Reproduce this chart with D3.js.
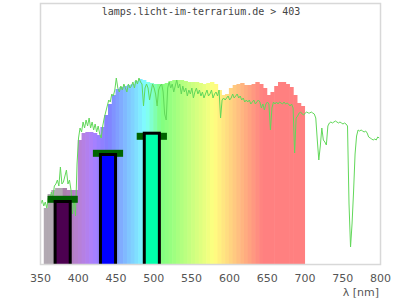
<!DOCTYPE html>
<html>
<head>
<meta charset="utf-8">
<script src="https://cdn.jsdelivr.net/npm/d3@7"></script>
<style>
body { margin: 0; background: #fff; }
</style>
</head>
<body>
<svg id="chart" width="400" height="300"></svg>
<script>
// texts
var titleText = "lamps.licht-im-terrarium.de > 403";
var axisLabel = "λ [nm]";
var tickValues = [350, 400, 450, 500, 550, 600, 650, 700, 750, 800];

// smoothed spectrum, one bin every binWidth nm starting at binStart
var binStart = 355;
var binWidth = 5;
var binValues = [56, 70, 74, 76, 76, 76, 74, 74, 74,
	124, 131, 132, 132, 131, 129, 137, 149, 160, 169,
	175, 177, 178, 179, 180, 183, 185, 184, 182, 181,
	180, 180, 180, 181, 183, 184, 184, 184, 183, 182,
	182, 182, 181, 180, 181, 182, 180, 174, 169, 170,
	176, 179, 180, 181, 179, 179, 180, 182, 180, 176,
	169, 172, 178, 182, 182, 180, 177, 169, 161, 158];

// measured spectrum, one value every lineStep nm starting at lineStart
var lineStart = 351;
var lineStep = 2;
var lineValues = [
	60, 64, 58, 62, 56, 66, 62, 72, 66, 78,
	80, 84, 78, 97, 80, 82, 88, 94, 80, 84,
	74, 50, 66, 48, 100, 126, 136, 132, 142, 136,
	144, 138, 146, 136, 142, 134, 140, 132, 138, 130,
	126, 138, 146, 152, 158, 164, 162, 170, 168, 174,
	186, 176, 172, 178, 174, 180, 176, 172, 180, 176,
	178, 182, 176, 184, 180, 186, 182, 180, 158, 176,
	180, 176, 164, 172, 180, 176, 170, 158, 174, 178,
	180, 172, 150, 144, 176, 182, 176, 180, 172, 178,
	184, 176, 180, 170, 178, 172, 176, 168, 174, 170,
	176, 166, 172, 176, 170, 174, 168, 172, 166, 170,
	174, 168, 170, 174, 166, 170, 172, 168, 174, 146,
	164, 166, 164, 166, 168, 164, 166, 170, 166, 168,
	170, 166, 168, 164, 166, 162, 164, 162, 164, 160,
	162, 164, 160, 162, 164, 162, 156, 160, 154, 160,
	162, 160, 134, 156, 162, 160, 162, 160, 162, 161,
	160, 162, 160, 161, 160, 158, 160, 156, 111, 146,
	148, 151, 152, 150, 149, 151, 152, 151, 151, 152,
	151, 150, 146, 124, 104, 118, 136, 124, 122, 119,
	138, 141, 142, 141, 142, 143, 142, 141, 142, 141,
	140, 141, 140, 138, 60, 17, 40, 72, 110, 128,
	134, 133, 134, 133, 132, 133, 131, 127, 126, 125,
	124, 125, 124, 127, 126];

// bands: center wavelength, measured value (bar) and reference value (cap)
var bandCenter = [380, 440, 498];
var bandWidth = 20;
var capWidth = 40;
var bandValue = [62.5, 109.5, 130.8];
var capValue = [64.7, 110.7, 127.7];
var bandColor = ["#4c0050", "#0000ff", "#00ffaa"];

var svg = d3.select("#chart");

var x = d3.scaleLinear().domain([350, 800]).range([40, 380]);
var y = d3.scaleLinear().domain([0, 261]).range([264, 3]);

//colour of a wavelength, blended half with white
function waveColor(w)
{
	var r = 0, g = 0, b = 0;
	if(w < 380) return "#b2a9b2";
	if(w < 440) { r = -(w - 440) / 60; b = 1; }
	else if(w < 490) { g = (w - 440) / 50; b = 1; }
	else if(w < 510) { g = 1; b = -(w - 510) / 20; }
	else if(w < 580) { r = (w - 510) / 70; g = 1; }
	else if(w < 645) { r = 1; g = -(w - 645) / 65; }
	else { r = 1; }
	var f = 1;
	if(w < 420) f = 0.3 + 0.7 * (w - 380) / 40;
	return d3.rgb(255 * (0.5 + 0.5 * r * f), 255 * (0.5 + 0.5 * g * f), 255 * (0.5 + 0.5 * b * f)).toString();
}

svg.append("defs").append("clipPath")
	.attr("id", "plotClip")
	.append("rect")
	.attr("x", 40).attr("y", 3)
	.attr("width", 340).attr("height", 261);

var plot = svg.append("g").attr("clip-path", "url(#plotClip)");

// smoothed spectrum bins
plot.append("g")
	.attr("class", "bins")
	.selectAll("rect")
	.data(binValues)
	.enter()
	.append("rect")
	.attr("x", function(d, i){ return x(binStart + i * binWidth); })
	.attr("width", function(d, i){ return x(binStart + (i + 1) * binWidth) - x(binStart + i * binWidth) + 0.6; })
	.attr("y", function(d){ return y(d); })
	.attr("height", function(d){ return y(0) - y(d); })
	.attr("fill", function(d, i){ return waveColor(binStart + i * binWidth + binWidth / 2); });

// measured line
var line = d3.line()
	.x(function(d, i){ return x(lineStart + i * lineStep); })
	.y(function(d){ return y(d); });

plot.append("path")
	.datum(lineValues)
	.attr("d", line)
	.attr("fill", "none")
	.attr("stroke", "#62d85a")
	.attr("stroke-width", 1);

// caps first, bars on top
plot.selectAll("rect.cap")
	.data(capValue)
	.enter()
	.append("rect")
	.attr("class", "cap")
	.attr("x", function(d, i){ return x(bandCenter[i] - capWidth / 2); })
	.attr("width", function(d, i){ return x(bandCenter[i] + capWidth / 2) - x(bandCenter[i] - capWidth / 2); })
	.attr("y", function(d){ return y(d) - 3.5; })
	.attr("height", 7)
	.attr("fill", "#006400");

plot.selectAll("rect.band")
	.data(bandValue)
	.enter()
	.append("rect")
	.attr("class", "band")
	.attr("x", function(d, i){ return x(bandCenter[i] - bandWidth / 2); })
	.attr("width", function(d, i){ return x(bandCenter[i] + bandWidth / 2) - x(bandCenter[i] - bandWidth / 2); })
	.attr("y", function(d){ return y(d); })
	.attr("height", function(d){ return y(0) - y(d) + 4; })
	.attr("fill", function(d, i){ return bandColor[i]; })
	.attr("stroke", "#000")
	.attr("stroke-width", 3);

// frame
svg.append("rect")
	.attr("x", 40.5).attr("y", 3.5)
	.attr("width", 340).attr("height", 261)
	.attr("fill", "none")
	.attr("stroke", "#d8d8d8")
	.attr("stroke-width", 1.5);

// x axis
var axis = svg.append("g")
	.attr("transform", "translate(0,264)")
	.call(d3.axisBottom(x).tickValues(tickValues).tickSize(0).tickPadding(10));
axis.select(".domain").remove();
axis.selectAll("text")
	.attr("font-family", "DejaVu Sans")
	.attr("font-size", "11px")
	.attr("fill", "#555");

svg.append("text")
	.attr("x", 379)
	.attr("y", 296)
	.attr("text-anchor", "end")
	.attr("font-family", "DejaVu Sans")
	.attr("font-size", "11px")
	.attr("fill", "#555")
	.text(axisLabel);

svg.append("text")
	.attr("x", 201)
	.attr("y", 15)
	.attr("text-anchor", "middle")
	.attr("font-family", "DejaVu Sans Mono")
	.attr("font-size", "10px")
	.attr("fill", "#444")
	.text(titleText);
</script>
</body>
</html>
